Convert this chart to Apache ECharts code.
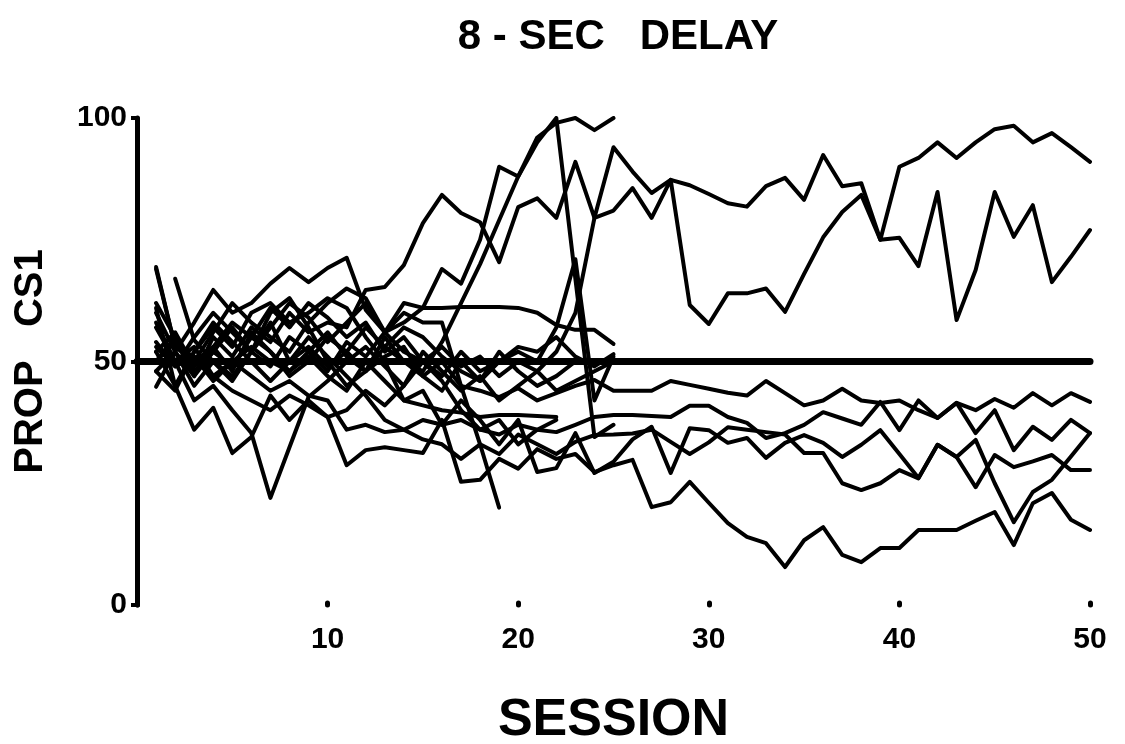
<!DOCTYPE html>
<html>
<head>
<meta charset="utf-8">
<script src="https://cdn.jsdelivr.net/npm/echarts/dist/echarts.min.js"></script>
<style>
  html, body { margin: 0; padding: 0; background: #fff; }
  #chart { width: 1125px; height: 744px; }
</style>
</head>
<body>
<div id="chart"></div>
<script>
// x ticks and y ticks
const sessionTicks = [10, 20, 30, 40, 50];
const propTicks = [0, 50, 100];

// chance level reference line
const refSessions = [0, 50];
const refValues = [50, 50];

// one array per subject, index 0 = session 1 (null = no session)
const subj01 = [60, 52, 47, 55, 51, 57, 54, 60, 56, 58,
  57, 64.7, 65.3, 69.8, 78.4, 84.2, 80.5, 78.6, 70.4, 81.7,
  83.5, 79.5, 91, 79.5, 94, 89, 84.6, 87.3, 86.2, 84.4,
  82.5, 81.8, 86, 87.7, 83.2, 92.4, 86, 86.6, 75, 90,
  91.8, 95, 91.8, 95, 97.7, 98.4, 95, 96.9, 94, 91];
const subj02 = [52, 56, 49, 53, 58, 55, 61, 57, 62, 59,
  55, 58, 52, 55, 50, 53, 49, 51, 47, 50,
  48, 52, 60, 79.5, 81, 85.6, 79.5, 87.3, 61.6, 57.7,
  64, 64, 65, 60.2, 68, 75.5, 80.7, 84.2, 75, 75.4,
  69.6, 84.8, 58.5, 68.8, 84.8, 75.6, 82.1, 66.3, 71.5, 77];
const subj03 = [50, 54, 48, 52, 57, 52, 58, 50, 53, 49,
  52, 48, 51, 53, 47, 50, 45, 44, 42.7, 44.5,
  42, 43.5, 45, 46.2, 44, 44, 44, 46, 45.2, 44.4,
  43.6, 43, 46, 43.5, 41, 42, 44.4, 42, 41.5, 42,
  40, 38.4, 41.5, 40, 42.3, 40.5, 43.5, 41, 43.5, 41.7];
const subj04 = [54, 49, 51, 46, 50, 47, 44, 46, 43, 42,
  36, 37, 35.5, 36, 38, 37, 38, 36, 35, 37,
  36, 35.5, 37, 38.6, 39, 39, 38.8, 38.6, 40.9, 40.9,
  38.6, 37.4, 34.3, 35.3, 37, 39.6, 38.3, 37, 41.7, 35.9,
  42, 38.4, 41.5, 35.3, 40, 31.8, 36.6, 33.9, 38, 35.3];
const subj05 = [50, 55, 47, 52, 49, 55, 52, 48, 51, 47,
  44, 50, 46, 42, 44, 37, 42, 38, 33, 38,
  27.3, 28.1, 35.3, 27.1, 29.4, 34, 36.6, 27.1, 36.3, 35.9,
  33.3, 34.3, 30.2, 33.3, 34.9, 33.3, 30.4, 32.9, 35.9, 31,
  26.1, 32.9, 30.4, 33.9, 25, 17, 23.2, 25.7, 30.5, 35.3];
const subj06 = [48, 44, 52, 58, 54, 50, 46, 50, 55, 51,
  47, 43, 38, 36, 34, 33, 30, 33, 31, 35,
  33, 31, 33.5, 34.9, 35, 35.2, 36, 33.5, 31, 33.4,
  36.5, 36, 35.5, 35, 31.2, 31.2, 25, 23.6, 25, 27.7,
  26, 32.9, 30.4, 24.2, 30.8, 28.3, 29.5, 30.8, 27.7, 27.7];
const subj07 = [57, 50, 53, 47, 44, 42, 40, 43, 41, 38.6,
  28.7, 31.8, 32.4, 31.8, 31.2, 38, 25.3, 25.7, 30, 28,
  32, 30, 31, 27.3, 28.7, 29.8, 20.1, 21.1, 25.3, 21,
  16.8, 14, 12.7, 7.8, 13.3, 16, 10.3, 8.8, 11.7, 11.7,
  15.4, 15.4, 15.4, 17.3, 19.1, 12.3, 20.9, 23, 17.5, 15.4];
const subj08 = [48, 52, 45, 50, 47, 52, 49, 55, 52, 48,
  54, 51, 56, 58, 61, 69, 66, 75, 90, 88,
  96, 99, 100, 97.5, 100];
const subj09 = [62, 55, 50, 53, 48, 56, 52, 47, 50, 55,
  52, 57, 53, 50, 48, 54, 62, 70, 79, 88,
  95, 100, 67, 34.5, 37];
const subj10 = [69, 53, 51, 47, 50, 53, 50, 48, 52, 56,
  51, 48, 53, 57, 55, 51, 48, 46, 50, 52,
  50, 57, 71, 42, 51];
const subj11 = [61, 45, 52, 57, 53, 60, 62, 58, 60, 63,
  61, 55, 50, 42, 41, 40, 39.5, 38.6, 39, 39,
  38.8, 38.6];
const subj12 = [53, 49, 55, 60, 56, 52, 57, 62, 59, 54,
  58, 62, 56, 60, 58, 58, 45, 33, 20];
const subj13 = [58, 50, 42, 45, 40, 35.3, 22, 32.4, 42.7, 46,
  50, 53, 49, 45, 52, 48, 44, 47, 42, 45,
  48, 44, 46, 48, 50];
const subj14 = [44.8, 52, 58, 64.7, 60, 62, 66, 69.2, 66.3, 69.2,
  71.3, 60.6, 56, 62, 61, 61, 61.2, 61.2, 61.2, 61,
  60, 57.5, 56.5, 56.5, 53.6];
const subj15 = [69.4, 53, 50, 56, 62, 58, 55, 52, 58, 62,
  65, 63, 56, 52, 50, 47, 52, 48, 50, 53,
  52, 55, 51, 49, 51.5];
const subj16 = [null, 67, 54.4, 50, 46, 52, 60, 63, 57, 50,
  45, 48, 55, 50, 47, 44, 50, 46, 52, 48,
  45, 47, 50];
const subj17 = [52, 45, 36, 40.5, 31.2, 34.5, 43, 38, 42, 38.6,
  40, 44, 41, 45, 50, 46, 40, 36, 38, 33,
  36, 38];

const subjects = [subj01, subj02, subj03, subj04, subj05, subj06, subj07, subj08, subj09,
  subj10, subj11, subj12, subj13, subj14, subj15, subj16, subj17];

const chart = echarts.init(document.getElementById('chart'), null, { renderer: 'canvas' });

const font = "'Liberation Sans', Arial, sans-serif";

const series = subjects.map((vals, k) => ({
  name: 'S' + (k + 1),
  type: 'line',
  data: vals.map((v, i) => [i + 1, v]).filter(p => p[1] != null),
  symbol: 'none',
  lineStyle: { color: '#000', width: 4, join: 'round', cap: 'round' },
  z: 3,
}));

series.push({
  name: 'chance',
  type: 'line',
  data: refSessions.map((s, i) => [s, refValues[i]]),
  symbol: 'none',
  lineStyle: { color: '#000', width: 7, cap: 'round' },
  z: 4,
});

chart.setOption({
  animation: false,
  backgroundColor: '#fff',
  title: {
    text: '8 - SEC   DELAY',
    left: 613,
    textAlign: 'center',
    top: 11,
    textStyle: { fontFamily: font, fontWeight: 'bold', fontSize: 42, color: '#000' },
  },
  grid: { left: 137, right: 35, top: 118, bottom: 139, containLabel: false, outerBoundsMode: 'none' },
  xAxis: {
    type: 'value',
    min: 0,
    max: 50,
    interval: 10,
    name: 'SESSION',
    nameLocation: 'middle',
    nameGap: 90,
    nameTextStyle: { fontFamily: font, fontWeight: 'bold', fontSize: 52, color: '#000' },
    axisLine: { show: false },
    axisTick: { show: true, inside: true, length: 2, lineStyle: { color: '#000', width: 5, cap: 'round' } },
    splitLine: { show: false },
    axisLabel: {
      margin: 20,
      fontFamily: font, fontWeight: 'bold', fontSize: 30, color: '#000',
      formatter: v => (sessionTicks.includes(v) ? String(v) : ''),
    },
  },
  yAxis: {
    type: 'value',
    min: 0,
    max: 100,
    interval: 50,
    name: 'PROP   CS1',
    nameLocation: 'middle',
    nameGap: 86,
    nameRotate: 90,
    nameTextStyle: { fontFamily: font, fontWeight: 'bold', fontSize: 40, color: '#000' },
    axisLine: { show: true, lineStyle: { color: '#000', width: 5, cap: 'round' } },
    axisTick: { show: true, length: 6, lineStyle: { color: '#000', width: 4 } },
    splitLine: { show: false },
    axisLabel: {
      margin: 10,
      fontFamily: font, fontWeight: 'bold', fontSize: 30, color: '#000',
      formatter: v => (propTicks.includes(v) ? String(v) : ''),
    },
  },
  series: series,
});
</script>
</body>
</html>
